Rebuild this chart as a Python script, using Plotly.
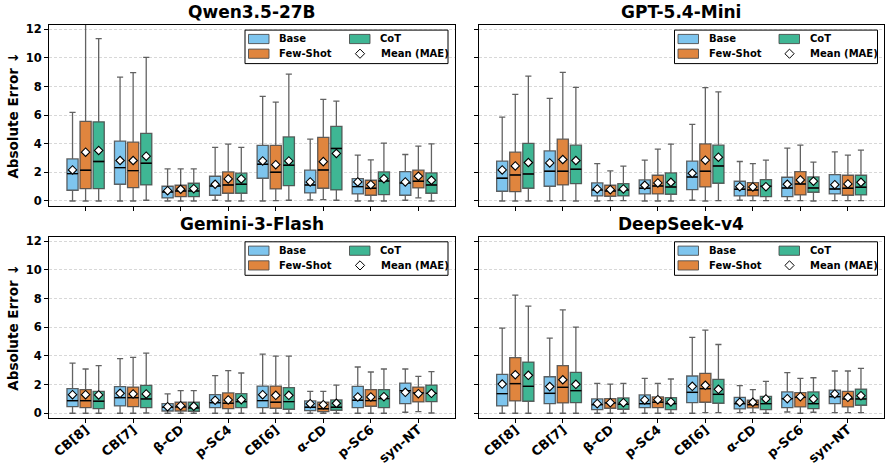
import plotly.graph_objects as go

categories = ["CB[8]", "CB[7]", "β-CD", "p-SC4", "CB[6]", "α-CD", "p-SC6", "syn-NT"]
series = ["Base", "Few-Shot", "CoT"]
models = ["Qwen3.5-27B", "GPT-5.4-Mini", "Gemini-3-Flash", "DeepSeek-v4"]
y_ticks = [0, 2, 4, 6, 8, 10, 12]

# rows: Base, Few-Shot, CoT ; columns: categories
qwen_q1 = [[0.75, 1.17, 0.21, 0.40, 1.59, 0.56, 0.49, 0.40],
           [0.86, 0.93, 0.30, 0.54, 0.84, 0.89, 0.40, 0.91],
           [0.86, 1.12, 0.30, 0.54, 1.07, 0.77, 0.44, 0.54]]
qwen_med = [[1.91, 2.33, 0.63, 1.05, 2.57, 1.12, 1.00, 1.26],
            [2.15, 2.12, 0.70, 1.12, 2.01, 2.17, 0.89, 1.38],
            [2.76, 2.64, 0.70, 1.17, 2.50, 3.67, 1.40, 1.12]]
qwen_q3 = [[2.94, 4.18, 1.03, 1.73, 3.88, 2.15, 1.56, 2.05],
           [5.56, 4.11, 1.10, 2.03, 3.88, 4.44, 1.45, 2.15],
           [5.53, 4.72, 1.24, 1.94, 4.48, 5.21, 2.03, 1.96]]
qwen_lo = [[0.00, 0.00, 0.00, 0.05, 0.00, 0.07, 0.00, 0.05],
           [0.00, 0.00, 0.00, 0.00, 0.02, 0.09, 0.00, 0.21],
           [0.00, 0.05, 0.00, 0.00, 0.05, 0.05, 0.00, 0.00]]
qwen_hi = [[6.19, 8.66, 2.24, 3.74, 7.31, 4.32, 3.20, 3.25],
           [13.5, 8.97, 2.24, 3.97, 6.91, 7.10, 2.87, 3.83],
           [11.35, 10.04, 2.24, 3.74, 8.87, 6.98, 4.04, 3.99]]
qwen_mean = [[2.17, 2.83, 0.72, 1.17, 2.80, 1.33, 1.33, 1.33],
             [3.41, 2.83, 0.82, 1.54, 2.54, 2.75, 1.14, 1.73],
             [3.53, 3.13, 0.86, 1.54, 2.80, 3.32, 1.56, 1.45]]

gpt_q1 = [[0.68, 1.03, 0.35, 0.49, 0.79, 0.35, 0.30, 0.49],
          [0.65, 1.12, 0.33, 0.49, 0.98, 0.35, 0.42, 0.40],
          [0.89, 1.21, 0.35, 0.47, 1.24, 0.30, 0.61, 0.42]]
gpt_med = [[1.59, 2.08, 0.77, 0.89, 1.68, 0.82, 0.91, 0.84],
           [1.82, 2.08, 0.70, 1.05, 2.08, 0.77, 1.19, 0.89],
           [1.89, 2.22, 0.77, 0.98, 2.45, 1.03, 0.91, 0.96]]
gpt_q3 = [[2.78, 3.50, 1.26, 1.47, 2.78, 1.38, 1.66, 1.84],
          [3.41, 4.32, 1.10, 1.80, 3.99, 1.28, 2.05, 1.80],
          [4.02, 3.90, 1.21, 1.96, 3.90, 1.49, 1.68, 1.80]]
gpt_lo = [[0.00, 0.00, 0.00, 0.00, 0.05, 0.05, 0.02, 0.02],
          [0.00, 0.02, 0.02, 0.00, 0.00, 0.02, 0.02, 0.02],
          [0.00, 0.00, 0.02, 0.00, 0.02, 0.02, 0.00, 0.02]]
gpt_hi = [[5.86, 7.17, 2.61, 2.85, 5.35, 2.76, 3.69, 3.43],
          [7.45, 8.99, 2.10, 3.62, 7.92, 2.61, 3.90, 3.20],
          [8.73, 7.94, 2.43, 3.97, 7.63, 2.85, 2.71, 3.55]]
gpt_mean = [[2.17, 2.66, 0.84, 1.10, 1.94, 1.00, 1.17, 1.14],
            [2.45, 2.90, 0.79, 1.26, 2.85, 0.98, 1.47, 1.19],
            [2.69, 2.83, 0.84, 1.31, 3.06, 1.00, 1.38, 1.31]]

gemini_q1 = [[0.46, 0.51, 0.16, 0.39, 0.39, 0.19, 0.39, 0.67],
             [0.39, 0.46, 0.16, 0.32, 0.35, 0.12, 0.49, 0.79],
             [0.32, 0.39, 0.14, 0.39, 0.28, 0.21, 0.39, 0.81]]
gemini_med = [[0.88, 1.09, 0.42, 0.74, 0.88, 0.42, 0.91, 1.58],
              [0.88, 1.09, 0.44, 0.70, 0.77, 0.32, 0.88, 1.42],
              [0.84, 1.00, 0.37, 0.81, 0.81, 0.42, 1.02, 1.39]]
gemini_q3 = [[1.72, 1.86, 0.67, 1.30, 1.90, 0.86, 1.88, 2.11],
             [1.65, 1.83, 0.77, 1.42, 1.90, 0.77, 1.65, 1.83],
             [1.53, 1.95, 0.77, 1.37, 1.79, 0.93, 1.65, 1.97]]
gemini_lo = [[0.00, 0.00, 0.00, 0.00, 0.00, 0.00, 0.00, 0.07],
             [0.00, 0.00, 0.00, 0.00, 0.00, 0.00, 0.00, 0.12],
             [0.00, 0.02, 0.00, 0.00, 0.00, 0.00, 0.00, 0.02]]
gemini_hi = [[3.50, 3.81, 1.35, 2.62, 4.13, 1.53, 3.23, 3.09],
             [3.09, 3.90, 1.58, 2.97, 3.99, 1.53, 2.88, 2.58],
             [3.32, 4.20, 1.58, 2.81, 3.99, 1.97, 3.09, 2.90]]
gemini_mean = [[1.30, 1.39, 0.46, 0.91, 1.30, 0.67, 1.14, 1.46],
               [1.30, 1.35, 0.53, 0.93, 1.25, 0.60, 1.14, 1.37],
               [1.28, 1.35, 0.49, 0.95, 1.25, 0.70, 1.16, 1.39]]

deepseek_q1 = [[0.51, 0.67, 0.26, 0.39, 0.74, 0.30, 0.39, 0.67],
               [0.86, 0.72, 0.35, 0.39, 0.77, 0.37, 0.44, 0.44],
               [0.84, 0.74, 0.28, 0.26, 0.70, 0.26, 0.32, 0.56]]
deepseek_med = [[1.37, 1.39, 0.60, 0.67, 1.46, 0.67, 1.02, 1.16],
                [2.07, 1.81, 0.72, 0.77, 1.72, 0.60, 1.11, 1.00],
                [1.88, 1.58, 0.63, 0.67, 1.32, 0.67, 0.67, 1.00]]
deepseek_q3 = [[2.72, 2.55, 1.00, 1.28, 2.60, 1.11, 1.49, 1.62],
               [3.88, 3.32, 1.02, 1.14, 2.79, 0.91, 1.44, 1.53],
               [3.57, 2.86, 1.07, 1.09, 2.37, 1.18, 1.49, 1.69]]
deepseek_lo = [[0.00, 0.00, 0.00, 0.00, 0.00, 0.05, 0.09, 0.05],
               [0.00, 0.00, 0.00, 0.00, 0.05, 0.05, 0.00, 0.05],
               [0.00, 0.00, 0.00, 0.00, 0.05, 0.00, 0.07, 0.05]]
deepseek_hi = [[5.94, 5.25, 2.09, 2.44, 5.29, 1.93, 2.83, 2.95],
               [8.24, 7.22, 2.04, 2.09, 5.80, 1.65, 2.44, 2.95],
               [7.47, 6.01, 2.09, 2.39, 4.80, 2.23, 2.48, 3.13]]
deepseek_mean = [[2.04, 1.86, 0.67, 0.93, 1.88, 0.77, 1.02, 1.35],
                 [2.69, 2.34, 0.74, 0.95, 1.95, 0.77, 1.16, 1.11],
                 [2.65, 2.02, 0.74, 0.79, 1.67, 1.00, 1.00, 1.23]]

panel_stats = [
    (qwen_q1, qwen_med, qwen_q3, qwen_lo, qwen_hi, qwen_mean),
    (gpt_q1, gpt_med, gpt_q3, gpt_lo, gpt_hi, gpt_mean),
    (gemini_q1, gemini_med, gemini_q3, gemini_lo, gemini_hi, gemini_mean),
    (deepseek_q1, deepseek_med, deepseek_q3, deepseek_lo, deepseek_hi, deepseek_mean),
]

# ---------------- style ----------------
FONT = "DejaVu Sans"
fills = ["#7EC5EE", "#E0853E", "#3FB694"]
edge = "rgba(70,70,70,0.85)"
offsets = [-0.275, 0.0, 0.275]
BOX_W = 0.235

W, H = 893, 469
ML, MR, MT, MB = 49, 9, 25, 51
PW, PH = W - ML - MR, H - MT - MB


def px_x(px):
    return (px - ML) / PW


def px_y(py):
    return (H - MB - py) / PH


x_domains = [[0, px_x(454.5)], [px_x(478.7), 1]]
y_domains = [[px_y(205.7), 1], [0, px_y(237)]]
panel_right_px = [454.5, 884.0]
panel_top_px = [25.3, 237.0]

fig = go.Figure()

for p in range(4):
    q1s, meds, q3s, los, his, means = panel_stats[p]
    suffix = "" if p == 0 else str(p + 1)
    xa, ya = "x" + suffix, "y" + suffix
    for s in range(3):
        xs = [i + offsets[s] for i in range(len(categories))]
        fig.add_trace(go.Box(
            x=xs, q1=q1s[s], median=meds[s], q3=q3s[s],
            lowerfence=los[s], upperfence=his[s],
            width=BOX_W, whiskerwidth=0.55, boxpoints=False,
            fillcolor=fills[s], line=dict(color=edge, width=1.3),
            name=series[s], showlegend=False,
            xaxis=xa, yaxis=ya, hoverinfo="skip",
        ))
        mx, my = [], []
        for x, m in zip(xs, meds[s]):
            mx += [x - BOX_W / 2, x + BOX_W / 2, None]
            my += [m, m, None]
        fig.add_trace(go.Scatter(
            x=mx, y=my, mode="lines", line=dict(color="black", width=1.4),
            showlegend=False, xaxis=xa, yaxis=ya, hoverinfo="skip",
        ))
    for s in range(3):
        xs = [i + offsets[s] for i in range(len(categories))]
        fig.add_trace(go.Scatter(
            x=xs, y=means[s], mode="markers",
            marker=dict(symbol="diamond", size=6.5, color="white",
                        line=dict(color="black", width=1.1)),
            name="Mean (MAE)", showlegend=False,
            xaxis=xa, yaxis=ya, hoverinfo="skip",
        ))

layout = dict(
    width=W, height=H,
    margin=dict(l=ML, r=MR, t=MT, b=MB, autoexpand=False),
    paper_bgcolor="white", plot_bgcolor="white",
    boxmode="overlay",
    font=dict(family=FONT, color="black"),
    showlegend=False,
)

for p in range(4):
    suffix = "" if p == 0 else str(p + 1)
    row, col = p // 2, p % 2
    xkey, ykey = "xaxis" + suffix, "yaxis" + suffix
    layout[xkey] = dict(
        domain=x_domains[col], anchor="y" + suffix,
        range=[-0.77, 7.76], tickmode="array",
        tickvals=list(range(len(categories))), ticktext=categories,
        showticklabels=(row == 1), tickangle=-40, automargin=False,
        ticklabeloverflow="allow", ticklabelstandoff=-6,
        tickfont=dict(family=FONT, size=13, color="black", weight="bold"),
        ticks="outside", ticklen=4, tickwidth=1, tickcolor="black",
        showline=True, mirror=True, linecolor="black", linewidth=1,
        showgrid=False, zeroline=False,
    )
    layout[ykey] = dict(
        domain=y_domains[row], anchor="x" + suffix,
        range=[-0.33, 12.3], tickmode="array", tickvals=y_ticks,
        showticklabels=(col == 0), automargin=False,
        tickfont=dict(family=FONT, size=11.5, color="black", weight="bold"),
        ticks="outside", ticklen=4, tickwidth=1, tickcolor="black",
        showline=True, mirror=True, linecolor="black", linewidth=1,
        showgrid=True, gridcolor="#d8d8d8", gridwidth=0.8, griddash="3px,2px",
        zeroline=False,
    )
    if col == 0:
        layout[ykey]["title"] = dict(
            text="Absolute Error ↓", standoff=3,
            font=dict(family=FONT, size=13.5, color="black", weight="bold"))

annotations = []
shapes = []
for p in range(4):
    row, col = p // 2, p % 2
    annotations.append(dict(
        text=models[p], xref="paper", yref="paper",
        x=sum(x_domains[col]) / 2, y=y_domains[row][1],
        xanchor="center", yanchor="bottom", showarrow=False, yshift=1,
        font=dict(family=FONT, size=17, color="black", weight="bold"),
    ))
    # ---- legend (drawn inside each panel, top-right) ----
    L = panel_right_px[col] - 209.5
    T = panel_top_px[row] + 4.8
    shapes.append(dict(type="rect", xref="paper", yref="paper",
                       x0=px_x(L), x1=px_x(L + 203), y0=px_y(T), y1=px_y(T + 33.5),
                       fillcolor="white", line=dict(color="black", width=1), layer="above"))
    rows_c = [T + 8.9, T + 23.6]
    entries = [(0, 0, 0), (1, 0, 1), (2, 1, 0)]  # (series idx, column, row)
    for s, c, r in entries:
        px0 = L + 3.5 + c * 101
        cy = rows_c[r]
        shapes.append(dict(type="rect", xref="paper", yref="paper",
                           x0=px_x(px0), x1=px_x(px0 + 20.5),
                           y0=px_y(cy - 4.6), y1=px_y(cy + 4.6),
                           fillcolor=fills[s], line=dict(color=edge, width=1),
                           layer="above"))
        annotations.append(dict(
            text=series[s], xref="paper", yref="paper",
            x=px_x(px0 + 28.5), y=px_y(cy), xanchor="left", yanchor="middle",
            showarrow=False,
            font=dict(family=FONT, size=10, color="black", weight="bold")))
    # mean diamond
    dcx, dcy, d = L + 115, rows_c[1], 4.6
    path = "M {} {} L {} {} L {} {} L {} {} Z".format(
        px_x(dcx), px_y(dcy - d), px_x(dcx + d), px_y(dcy),
        px_x(dcx), px_y(dcy + d), px_x(dcx - d), px_y(dcy))
    shapes.append(dict(type="path", xref="paper", yref="paper", path=path,
                       fillcolor="white", line=dict(color="black", width=1),
                       layer="above"))
    annotations.append(dict(
        text="Mean (MAE)", xref="paper", yref="paper",
        x=px_x(L + 133.5), y=px_y(dcy), xanchor="left", yanchor="middle",
        showarrow=False,
        font=dict(family=FONT, size=10, color="black", weight="bold")))

layout["annotations"] = annotations
layout["shapes"] = shapes

fig.update_layout(**layout)
fig.write_html("out.html")
